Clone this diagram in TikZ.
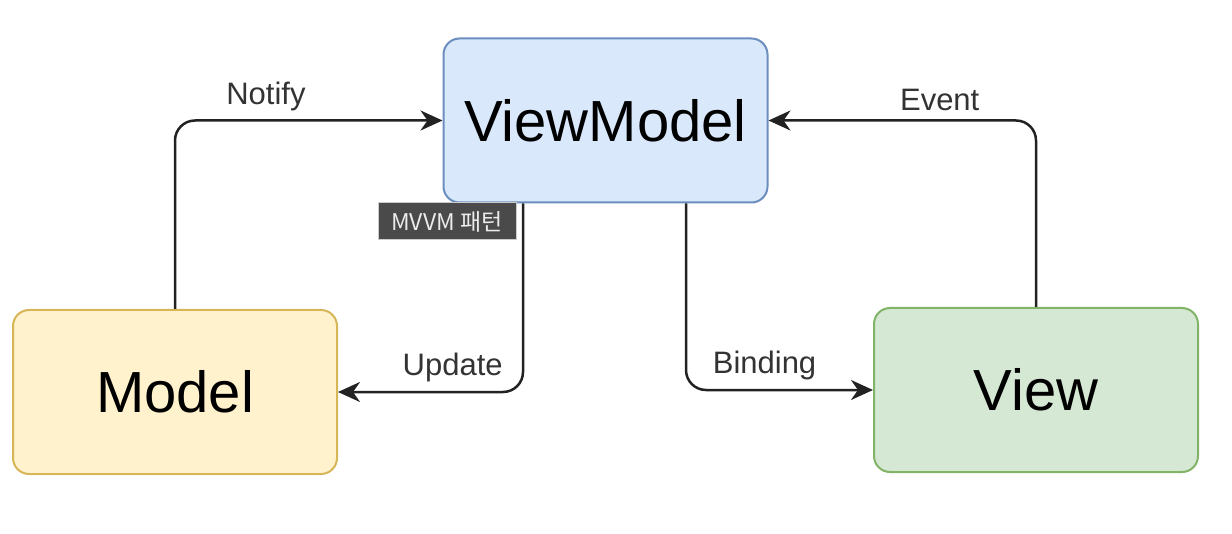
\documentclass[tikz,border=0pt]{standalone}
\usepackage{fontspec}
\setmainfont{Liberation Sans}
\newfontfamily\cjk{Noto Sans CJK KR}
\usetikzlibrary{arrows.meta, positioning}
\definecolor{vmfill}{HTML}{DAE8FC}
\definecolor{vmline}{HTML}{6C8EBF}
\definecolor{mfill}{HTML}{FFF2CC}
\definecolor{mline}{HTML}{D6B656}
\definecolor{vfill}{HTML}{D5E8D4}
\definecolor{vline}{HTML}{82B366}
\definecolor{linkgray}{HTML}{222222}
\definecolor{tipgray}{HTML}{4A4A4A}
\begin{document}
\begin{tikzpicture}[x=0.5pt,y=-0.5pt,
	box/.style={draw,rounded corners=8pt,line width=1pt,minimum width=162pt,minimum height=82pt,font=\fontsize{29}{34}\selectfont},
	link/.style={draw=linkgray,line width=1.25pt,rounded corners=10pt,-{Stealth[length=11pt,width=10pt,inset=3.5pt]}},
	lbl/.style={font=\fontsize{15.5}{18}\selectfont,text=black!80,above=1pt}]
	\useasboundingbox (0,0) rectangle (1232,534);
	\node[box,fill=vmfill,draw=vmline] (vm) at (605.5,120.5) {ViewModel};
	\node[box,fill=mfill,draw=mline] (model) at (175,392) {Model};
	\node[box,fill=vfill,draw=vline] (view) at (1036,390) {View};
	% connectors
	\draw[link] (model.north) |- (vm.west) node[lbl,pos=0.67]{Notify};
	\draw[link] (view.north) |- (vm.east) node[lbl,pos=0.68]{Event};
	\draw[link] ([xshift=-41.25pt]vm.south) |- (model.east) node[lbl,pos=0.69]{Update};
	\draw[link] ([xshift=40.25pt]vm.south) |- (view.west) node[lbl,pos=0.71]{Binding};
	% tooltip
	\node[fill=tipgray,draw=black!20,line width=0.5pt,text=white!92!black,minimum width=69pt,minimum height=18.5pt,inner sep=0pt,font=\cjk\fontsize{11.5}{13}\selectfont] (tip) at (447,221.5) {MVVM 패턴};
\end{tikzpicture}
\end{document}
